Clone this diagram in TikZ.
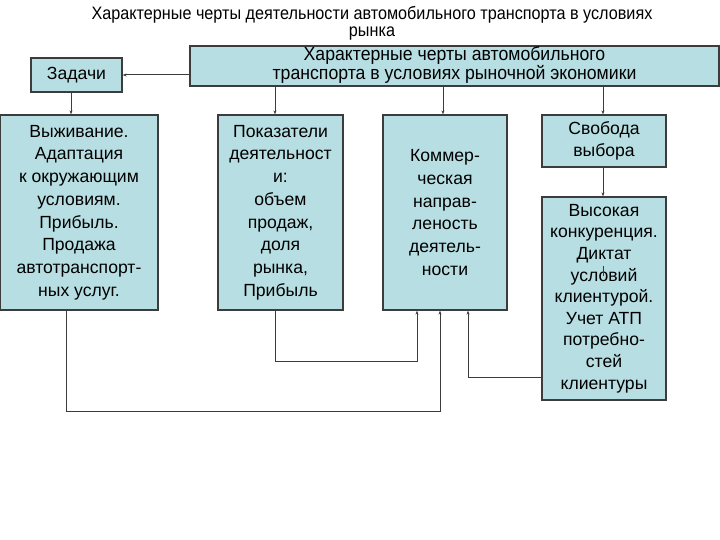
\documentclass[tikz,border=0pt]{standalone}
\usepackage{fontspec}
\setmainfont{Liberation Sans}
\usetikzlibrary{arrows.meta}

\begin{document}
\begin{tikzpicture}[x=1pt,y=-1pt]
        % Define colors
        \definecolor{boxfill}{RGB}{183,222,226}
        \definecolor{boxline}{RGB}{60,60,60}
        \tikzset{
            card/.style={draw=boxline, fill=boxfill, line width=1.3pt, align=center,
                inner sep=0pt, font=\fontsize{17.6}{22.7}\selectfont},
            link/.style={draw=boxline, line width=1pt, -{Stealth[length=4pt,width=3pt]}},
            narrow/.style={xscale=0.9, font=\fontsize{18}{20}\selectfont}
        }
        \useasboundingbox (0,0) rectangle (720,540);

        % Title
        \node[narrow] (title) at (372,15) {Характерные черты деятельности автомобильного транспорта в условиях};
        \node[narrow] (title2) at (372,34) {рынка};

        % Top row
        \node[card, minimum width=529, minimum height=40] (top) at (454.5,66)
            {\scalebox{0.93}[1]{\fontsize{19}{20}\selectfont\begin{tabular}{c}Характерные черты автомобильного\\[-1pt] транспорта в условиях рыночной экономики\end{tabular}}};
        \node[card, minimum width=91, minimum height=34] (zad) at (76.5,75) {Задачи};

        % Boxes
        \node[card, minimum width=158, minimum height=195] (surv) at (79,212.5)
            {Выживание.\\Адаптация\\к окружающим\\условиям.\\Прибыль.\\Продажа\\автотранспорт-\\ных услуг.};
        \node[card, minimum width=125, minimum height=195] (perf) at (280.5,212.5)
            {Показатели\\деятельност\\и:\\объем\\продаж,\\доля\\рынка,\\Прибыль};
        \node[card, minimum width=124, minimum height=195] (comm) at (445,212.5)
            {Коммер-\\ческая\\направ-\\леность\\деятель-\\ности};
        \node[card, minimum width=124, minimum height=52] (free) at (604,141)
            {Свобода\\выбора};
        \node[card, minimum width=124, minimum height=203, font=\fontsize{17.6}{21.6}\selectfont] (comp) at (604,298.5)
            {Высокая\\конкуренция.\\Диктат\\условий\\клиентурой.\\Учет АТП\\потребно-\\стей\\клиентуры};

        % Arrows from the top box
        \draw[link] (top.west |- zad.east) -- (zad.east);
        \draw[link] ([xshift=-5.5pt]zad.south) -- ([xshift=-5.5pt]zad.south |- surv.north);
        \draw[link] ([xshift=-5.5pt]perf.north |- top.south) -- ([xshift=-5.5pt]perf.north);
        \draw[link] ([xshift=-2pt]comm.north |- top.south) -- ([xshift=-2pt]comm.north);
        \draw[link] ([xshift=-1pt]free.north |- top.south) -- ([xshift=-1pt]free.north);
        \draw[link] ([xshift=-1pt]free.south) -- ([xshift=-1pt]comp.north);
        \draw[boxline, line width=0.8pt] (603,266) -- (603,276);

        % Feedback lines into the commercial box
        \coordinate (j1) at (440,411);
        \coordinate (j2) at (417,361);
        \coordinate (j5) at (468,377);
        \draw[link] ([xshift=-13pt]surv.south) |- (j1) -- (j1 |- comm.south);
        \draw[link] ([xshift=-5.5pt]perf.south) |- (j2) -- (j2 |- comm.south);
        \draw[link] (comp.west |- j5) -- (j5) -- (j5 |- comm.south);
\end{tikzpicture}
\end{document}
